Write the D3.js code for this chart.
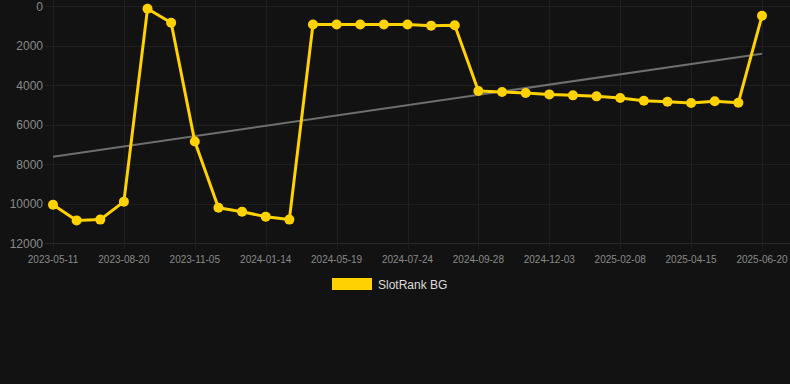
<!DOCTYPE html>
<html>
<head>
<meta charset="utf-8">
<script src="https://cdn.jsdelivr.net/npm/d3@7"></script>
<style>
  html, body { margin: 0; padding: 0; background: #121212; }
  svg { display: block; font-family: "Liberation Sans", Arial, sans-serif; }
</style>
</head>
<body>
<div id="chart"></div>
<script>
// dates of every point (labels shown every 3rd)
var dates = [
  "2023-05-11", "", "", "2023-08-20", "", "", "2023-11-05", "", "", "2024-01-14",
  "", "", "2024-05-19", "", "", "2024-07-24", "", "", "2024-09-28", "",
  "", "2024-12-03", "", "", "2025-02-08", "", "", "2025-04-15", "", "",
  "2025-06-20"
];
var rankValues = [
  10050, 10840, 10800, 9890, 120, 830, 6850, 10200, 10400, 10650,
  10800, 920, 920, 920, 920, 920, 980, 960, 4290, 4340,
  4390, 4460, 4510, 4560, 4640, 4780, 4830, 4900, 4810, 4880,
  480
];
var trendValues = [7620, 2400];
var yTicks = [0, 2000, 4000, 6000, 8000, 10000, 12000];
var seriesName = "SlotRank BG";

var width = 790, height = 384;
var plotLeft = 53, plotRight = 762, plotTop = 6.3, plotBottom = 243.3;

var svg = d3.select("#chart").append("svg")
  .attr("width", width)
  .attr("height", height);

svg.append("rect").attr("width", width).attr("height", height).attr("fill", "#121212");

var idx = d3.range(rankValues.length);

// category-like x axis, one slot per point
var x = d3.scalePoint()
  .domain(idx)
  .range([plotLeft, plotRight]);

// rank axis, reversed so rank 0 sits on top
var y = d3.scaleLinear()
  .domain([0, 12000])
  .range([plotTop, plotBottom]);

// horizontal grid
svg.append("g")
  .selectAll("line")
  .data(yTicks)
  .enter()
  .append("line")
  .attr("x1", plotLeft - 8)
  .attr("x2", width)
  .attr("y1", d => Math.round(y(d)) + 0.5)
  .attr("y2", d => Math.round(y(d)) + 0.5)
  .attr("stroke", d => d === 12000 ? "#2a2a2a" : "#1f1f1f")
  .attr("stroke-width", 1);

// vertical grid at labelled points
var labelled = idx.filter(i => dates[i] !== "");
svg.append("g")
  .selectAll("line")
  .data(labelled)
  .enter()
  .append("line")
  .attr("x1", d => Math.round(x(d)) + 0.5)
  .attr("x2", d => Math.round(x(d)) + 0.5)
  .attr("y1", 0)
  .attr("y2", plotBottom + 6)
  .attr("stroke", "#1f1f1f")
  .attr("stroke-width", 1);

// y labels
svg.append("g")
  .selectAll("text")
  .data(yTicks)
  .enter()
  .append("text")
  .attr("x", 43)
  .attr("y", d => y(d))
  .attr("dy", "0.35em")
  .attr("text-anchor", "end")
  .attr("font-size", "12px")
  .attr("fill", "#8a8a8a")
  .text(d => d);

// x labels
svg.append("g")
  .selectAll("text")
  .data(labelled)
  .enter()
  .append("text")
  .attr("x", d => x(d))
  .attr("y", 259)
  .attr("dy", "0.35em")
  .attr("text-anchor", "middle")
  .attr("font-size", "10px")
  .attr("fill", "#8a8a8a")
  .text(d => dates[d]);

// trend line
svg.append("line")
  .attr("x1", x(0))
  .attr("x2", x(idx.length - 1))
  .attr("y1", y(trendValues[0]))
  .attr("y2", y(trendValues[1]))
  .attr("stroke", "#6e6e6e")
  .attr("stroke-width", 2);

// series
var line = d3.line()
  .x(d => x(d))
  .y(d => y(rankValues[d]));

svg.append("path")
  .datum(idx)
  .attr("d", line)
  .attr("fill", "none")
  .attr("stroke", "#ffd200")
  .attr("stroke-width", 3)
  .attr("stroke-linejoin", "round");

svg.append("g")
  .selectAll("circle")
  .data(idx)
  .enter()
  .append("circle")
  .attr("cx", d => x(d))
  .attr("cy", d => y(rankValues[d]))
  .attr("r", 5)
  .attr("fill", "#ffd200");

// legend
svg.append("rect")
  .attr("x", 332)
  .attr("y", 278)
  .attr("width", 40)
  .attr("height", 12)
  .attr("fill", "#ffd200");

svg.append("text")
  .attr("x", 378)
  .attr("y", 284.5)
  .attr("dy", "0.35em")
  .attr("font-size", "12px")
  .attr("fill", "#dddddd")
  .text(seriesName);
</script>
</body>
</html>
